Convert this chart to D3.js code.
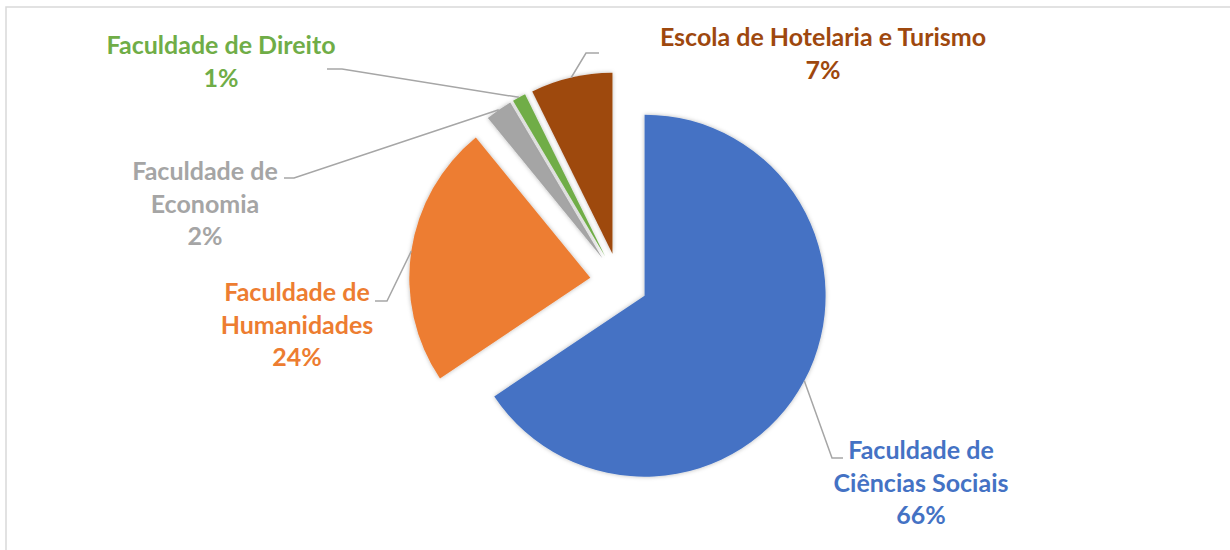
<!DOCTYPE html>
<html>
<head>
<meta charset="utf-8">
<script src="https://cdn.jsdelivr.net/npm/d3@7"></script>
<style>
  html, body { margin: 0; padding: 0; background: #fff; }
  svg { display: block; }
  .label { font-family: Lato, "Noto Sans", sans-serif; font-weight: bold; }
</style>
</head>
<body>
<svg id="chart"></svg>
<script>
// Data
const categories = [
  "Faculdade de Ciências Sociais",
  "Faculdade de Humanidades",
  "Faculdade de Economia",
  "Faculdade de Direito",
  "Escola de Hotelaria e Turismo"
];
const shares = [65.6, 23.5, 2.4, 1.2, 7.3];
const labelLines = [
  ["Faculdade de", "Ciências Sociais"],
  ["Faculdade de", "Humanidades"],
  ["Faculdade de", "Economia"],
  ["Faculdade de Direito"],
  ["Escola de Hotelaria e Turismo"]
];
const colors = ["#4472C4", "#ED7D31", "#A5A5A5", "#70AD47", "#9E480E"];

// Layout of the label boxes (Excel-style placement)
const labelLayout = [
  {cx: 921, y: 459, lead: [843, 458], elbow: 832},
  {cx: 297, y: 301, lead: [375, 301], elbow: 387},
  {cx: 205, y: 180, lead: [284, 178], elbow: 294},
  {cx: 221, y: 54,  lead: [327, 69],  elbow: 342},
  {cx: 823, y: 46,  lead: [599, 53],  elbow: 586}
];

const config = {
  width: 1230, height: 550,
  center: [619, 282],
  radius: 181,
  explode: 29,
  fontSize: 25,
  lineHeight: 32.5
};

const svg = d3.select('#chart')
    .attr('width', config.width)
    .attr('height', config.height);

// chart area border (only top and left edge visible in the reference)
svg.append('rect')
    .attr('x', 6).attr('y', 7)
    .attr('width', 1300).attr('height', 600)
    .attr('fill', 'none')
    .attr('stroke', '#d9d9d9')
    .attr('stroke-width', 1.5);

const defs = svg.append('defs');
const shadow = defs.append('filter')
    .attr('id', 'soft')
    .attr('x', '-20%').attr('y', '-20%')
    .attr('width', '140%').attr('height', '140%');
shadow.append('feDropShadow')
    .attr('dx', 0).attr('dy', 0)
    .attr('stdDeviation', 2.2)
    .attr('flood-color', '#000')
    .attr('flood-opacity', 0.28);

const data = categories.map((c, i) => ({name: c, value: shares[i], lines: labelLines[i], color: colors[i], layout: labelLayout[i]}));
const total = d3.sum(shares);

const pie = d3.pie()
    .sort(null)
    .value(d => d.value);

const arc = d3.arc()
    .innerRadius(0)
    .outerRadius(config.radius);

const arcs = pie(data);
const mid = d => (d.startAngle + d.endAngle) / 2;

const g = svg.append('g')
    .attr('transform', `translate(${config.center[0]},${config.center[1]})`);

g.selectAll('.slice')
    .data(arcs)
  .join('path')
    .attr('class', 'slice')
    .attr('d', arc)
    .attr('fill', d => d.data.color)
    .attr('filter', 'url(#soft)')
    .attr('transform', d => {
      const [ox, oy] = d3.pointRadial(mid(d), config.explode);
      return `translate(${ox},${oy})`;
    });

// leader lines: from label edge, short horizontal, then to the arc midpoint
const leaderPath = d => {
  const [ox, oy] = d3.pointRadial(mid(d), config.explode);
  const [ax, ay] = d3.pointRadial(mid(d), config.radius);
  const end = [config.center[0] + ox + ax, config.center[1] + oy + ay];
  const L = d.data.layout;
  return d3.line()([L.lead, [L.elbow, L.lead[1]], end]);
};

svg.selectAll('.leader')
    .data(arcs)
  .join('path')
    .attr('class', 'leader')
    .attr('d', leaderPath)
    .attr('fill', 'none')
    .attr('stroke', '#a6a6a6')
    .attr('stroke-width', 1.5);

const pct = d => Math.round(d.data.value / total * 100) + '%';

const labels = svg.selectAll('.label')
    .data(arcs)
  .join('text')
    .attr('class', 'label')
    .attr('text-anchor', 'middle')
    .attr('fill', d => d.data.color)
    .style('font-size', config.fontSize + 'px');

labels.each(function(d) {
  const t = d3.select(this);
  const lines = d.data.lines.concat([pct(d)]);
  lines.forEach((ln, i) => {
    t.append('tspan')
      .attr('x', d.data.layout.cx)
      .attr('y', d.data.layout.y + i * config.lineHeight)
      .text(ln);
  });
});
</script>
</body>
</html>
